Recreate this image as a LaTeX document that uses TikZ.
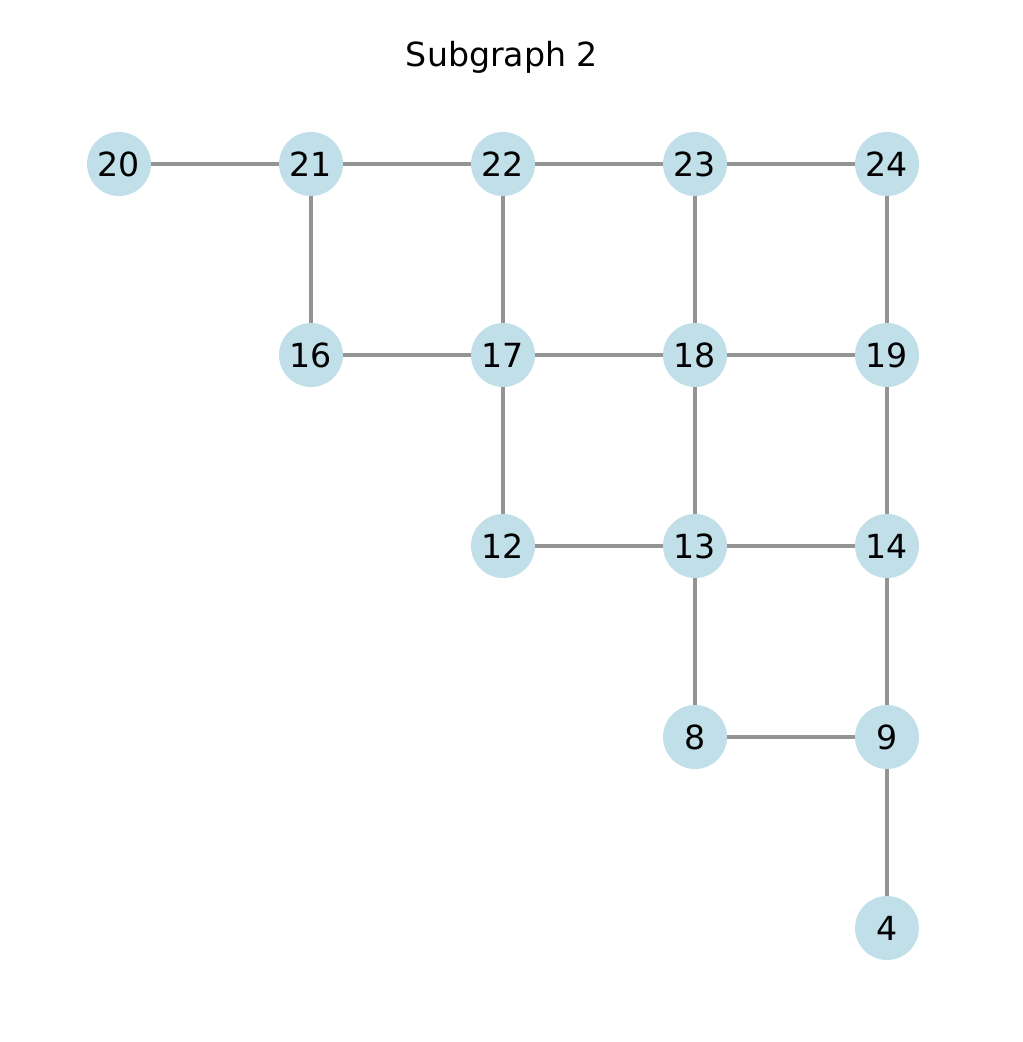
\documentclass[tikz,border=0pt]{standalone}
\usepackage{fontspec}
\setmainfont{DejaVu Sans}
\usepackage{xcolor}
\usepackage{tikz}
\usetikzlibrary{positioning}
\definecolor{nodeblue}{RGB}{193,223,232}
\definecolor{edgegray}{RGB}{148,148,148}

\begin{document}
\begin{tikzpicture}
  [
    x=0.02cm, y=-0.02cm,
    Blue/.style={circle, fill=nodeblue, minimum size=1.28cm, inner sep=0pt, font=\fontsize{18.9}{22}\selectfont},
    Edge/.style={draw=edgegray, line width=1.9pt}
  ]
  \useasboundingbox (0, 0) rectangle (1022, 1042);

  % Title
  \node[font=\fontsize{18.9}{22}\selectfont] (title) at(502, 57) {Subgraph 2};

  % Nodes
  \node[Blue] (v20) at(119, 164) {20};
  \node[Blue] (v21) at(311, 164) {21};
  \node[Blue] (v22) at(503, 164) {22};
  \node[Blue] (v23) at(695, 164) {23};
  \node[Blue] (v24) at(887, 164) {24};

  \node[Blue] (v16) at(311, 355) {16};
  \node[Blue] (v17) at(503, 355) {17};
  \node[Blue] (v18) at(695, 355) {18};
  \node[Blue] (v19) at(887, 355) {19};

  \node[Blue] (v12) at(503, 546) {12};
  \node[Blue] (v13) at(695, 546) {13};
  \node[Blue] (v14) at(887, 546) {14};

  \node[Blue] (v8) at(695, 737) {8};
  \node[Blue] (v9) at(887, 737) {9};

  \node[Blue] (v4) at(887, 928) {4};

  % Lines
  \path [Edge] (v20) -- (v21);
  \path [Edge] (v21) -- (v22);
  \path [Edge] (v22) -- (v23);
  \path [Edge] (v23) -- (v24);
  \path [Edge] (v21) -- (v16);
  \path [Edge] (v22) -- (v17);
  \path [Edge] (v23) -- (v18);
  \path [Edge] (v24) -- (v19);
  \path [Edge] (v16) -- (v17);
  \path [Edge] (v17) -- (v18);
  \path [Edge] (v18) -- (v19);
  \path [Edge] (v17) -- (v12);
  \path [Edge] (v18) -- (v13);
  \path [Edge] (v19) -- (v14);
  \path [Edge] (v12) -- (v13);
  \path [Edge] (v13) -- (v14);
  \path [Edge] (v13) -- (v8);
  \path [Edge] (v14) -- (v9);
  \path [Edge] (v8) -- (v9);
  \path [Edge] (v9) -- (v4);

\end{tikzpicture}
\end{document}
